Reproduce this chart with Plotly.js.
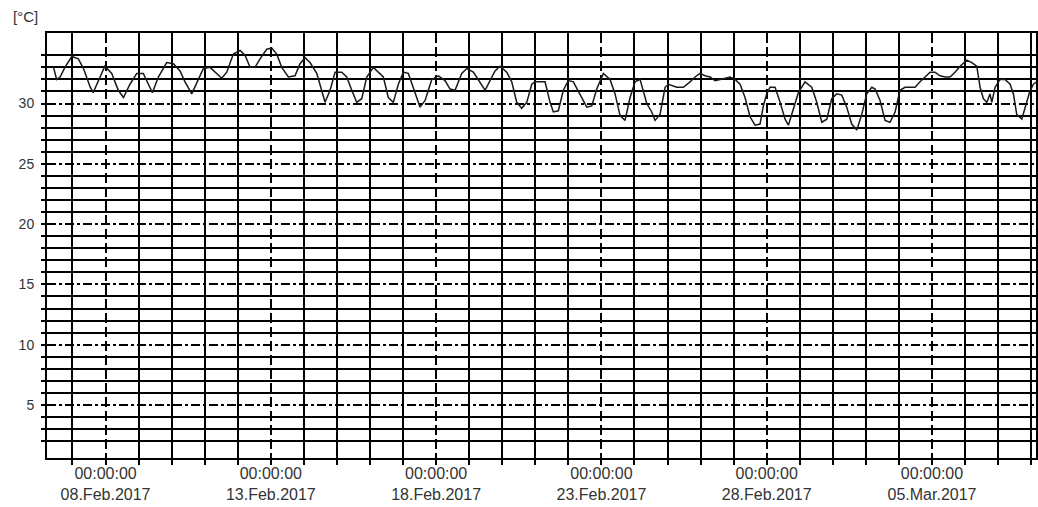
<!DOCTYPE html>
<html>
<head>
<meta charset="utf-8">
<script src="https://cdn.plot.ly/plotly-3.0.1.min.js"></script>
<style>html,body{margin:0;padding:0;background:#fff;}#chart{width:1038px;height:507px;}</style>
</head>
<body>
<div id="chart"></div>
<script>
const times = [
"2017-02-06 10:00","2017-02-06 12:30","2017-02-06 15:00","2017-02-06 18:30","2017-02-06 23:30",
"2017-02-07 04:15","2017-02-07 08:00","2017-02-07 12:45","2017-02-07 15:00","2017-02-07 18:45","2017-02-07 23:30",
"2017-02-08 04:30","2017-02-08 09:15","2017-02-08 13:00","2017-02-08 17:45","2017-02-08 22:40",
"2017-02-09 03:25","2017-02-09 07:05","2017-02-09 10:00","2017-02-09 14:20","2017-02-09 18:00","2017-02-09 20:25",
"2017-02-10 01:15","2017-02-10 06:05","2017-02-10 09:42","2017-02-10 14:35","2017-02-10 19:22","2017-02-10 23:00",
"2017-02-11 03:52","2017-02-11 08:44","2017-02-11 12:22","2017-02-11 16:00","2017-02-11 20:47",
"2017-02-12 01:39","2017-02-12 05:16","2017-02-12 08:55","2017-02-12 12:32","2017-02-12 16:10","2017-02-12 21:02",
"2017-02-13 00:40","2017-02-13 04:17","2017-02-13 07:55","2017-02-13 12:43","2017-02-13 17:34","2017-02-13 21:12",
"2017-02-14 00:50","2017-02-14 04:28","2017-02-14 09:20","2017-02-14 13:00","2017-02-14 15:22","2017-02-14 19:00","2017-02-14 22:37",
"2017-02-15 03:29","2017-02-15 07:07","2017-02-15 10:45","2017-02-15 14:22","2017-02-15 18:00","2017-02-15 21:38",
"2017-02-16 02:26","2017-02-16 06:03","2017-02-16 09:40","2017-02-16 13:18","2017-02-16 16:56","2017-02-16 20:34",
"2017-02-17 00:12","2017-02-17 03:50","2017-02-17 08:41","2017-02-17 12:20","2017-02-17 16:00","2017-02-17 20:50",
"2017-02-18 01:37","2017-02-18 06:28","2017-02-18 10:06","2017-02-18 13:44","2017-02-18 18:36","2017-02-18 22:14",
"2017-02-19 03:01","2017-02-19 07:53","2017-02-19 11:31","2017-02-19 15:09","2017-02-19 18:47","2017-02-19 22:24",
"2017-02-20 03:16","2017-02-20 06:54","2017-02-20 10:32","2017-02-20 14:10","2017-02-20 17:48","2017-02-20 21:26","2017-02-20 23:50",
"2017-02-21 07:05","2017-02-21 10:42","2017-02-21 13:06","2017-02-21 16:44","2017-02-21 20:21",
"2017-02-22 00:00","2017-02-22 03:38","2017-02-22 08:29","2017-02-22 13:21","2017-02-22 17:00","2017-02-22 20:36",
"2017-02-23 01:24","2017-02-23 06:16","2017-02-23 09:54","2017-02-23 13:32","2017-02-23 17:09","2017-02-23 20:47",
"2017-02-24 00:25","2017-02-24 04:03","2017-02-24 08:55","2017-02-24 12:32","2017-02-24 14:56","2017-02-24 18:34","2017-02-24 22:12",
"2017-02-25 00:36","2017-02-25 06:41","2017-02-25 11:30","2017-02-25 16:20","2017-02-25 20:00","2017-02-25 23:36",
"2017-02-26 03:14","2017-02-26 06:52","2017-02-26 10:30","2017-02-26 14:08","2017-02-26 17:46","2017-02-26 21:24",
"2017-02-27 01:00","2017-02-27 04:38","2017-02-27 08:16","2017-02-27 11:54","2017-02-27 15:32","2017-02-27 19:10","2017-02-27 21:34",
"2017-02-28 00:00","2017-02-28 02:26","2017-02-28 06:04","2017-02-28 09:42","2017-02-28 13:20","2017-02-28 15:44","2017-02-28 19:20","2017-02-28 23:00",
"2017-03-01 03:48","2017-03-01 08:42","2017-03-01 12:20","2017-03-01 16:00","2017-03-01 19:36","2017-03-01 23:12",
"2017-03-02 02:50","2017-03-02 06:30","2017-03-02 10:06","2017-03-02 13:42","2017-03-02 17:24","2017-03-02 21:00",
"2017-03-03 00:36","2017-03-03 04:18","2017-03-03 06:42","2017-03-03 10:18","2017-03-03 13:54","2017-03-03 17:30","2017-03-03 21:12",
"2017-03-04 00:48","2017-03-04 04:24","2017-03-04 08:06","2017-03-04 11:42","2017-03-04 15:18","2017-03-04 19:00","2017-03-04 22:36",
"2017-03-05 02:12","2017-03-05 05:48","2017-03-05 09:30","2017-03-05 13:06","2017-03-05 16:42","2017-03-05 20:24",
"2017-03-06 01:12","2017-03-06 04:54","2017-03-06 08:30","2017-03-06 10:54","2017-03-06 13:18","2017-03-06 15:48","2017-03-06 18:06","2017-03-06 19:24","2017-03-06 21:48",
"2017-03-07 01:24","2017-03-07 05:00","2017-03-07 08:42","2017-03-07 11:06","2017-03-07 13:30","2017-03-07 17:12","2017-03-07 19:36","2017-03-07 22:42",
"2017-03-08 01:36","2017-03-08 04:00"
];
// Temperature in °C
const temps = [
33.1,32.0,32.2,33.0,33.9,
33.7,32.9,31.4,30.9,31.9,33.1,
32.5,31.1,30.5,31.6,32.5,
32.5,31.6,30.9,32.2,33.0,33.4,
33.3,32.7,31.8,30.8,32.0,32.9,
33.0,32.5,32.1,32.6,34.1,
34.4,34.0,33.0,33.0,33.7,34.5,
34.6,34.1,33.0,32.2,32.3,33.3,
33.8,33.4,32.5,31.1,30.1,31.1,32.6,
32.6,32.2,31.1,30.1,30.4,32.2,
33.0,32.6,32.2,30.5,30.1,31.6,
32.6,32.5,30.8,29.7,30.25,32.0,
32.3,31.9,31.2,31.1,32.5,32.9,
32.6,31.8,31.1,31.9,32.7,33.1,
32.6,31.8,30.1,29.6,30.1,31.6,31.8,
31.8,30.1,29.3,29.4,31.1,
31.9,31.8,30.8,29.7,29.8,31.2,
32.5,32.0,30.8,29.0,28.6,30.5,
31.8,32.0,30.0,29.3,28.6,29.1,31.35,
31.6,31.35,31.35,31.8,32.2,32.5,
32.3,32.2,31.9,32.0,32.1,32.2,
32.0,31.6,30.5,28.9,28.2,28.3,29.8,
30.8,31.35,31.35,30.1,28.7,28.2,29.6,30.9,
31.8,31.35,30.1,28.45,28.7,30.4,
30.8,30.7,29.7,28.3,27.8,29.1,
30.8,31.35,31.2,30.25,28.6,28.45,29.3,
31.1,31.35,31.35,31.35,31.8,32.2,32.6,
32.6,32.3,32.2,32.2,32.6,33.1,
33.6,33.4,33.1,31.35,30.4,30.1,30.8,30.1,31.35,
32.0,32.0,31.6,30.8,29.1,28.7,29.7,30.9,
31.6,31.8
];
// Axis ticks
const xTickVals = ["2017-02-08","2017-02-13","2017-02-18","2017-02-23","2017-02-28","2017-03-05"];
const xTickText = ["00:00:00<br>08.Feb.2017","00:00:00<br>13.Feb.2017","00:00:00<br>18.Feb.2017","00:00:00<br>23.Feb.2017","00:00:00<br>28.Feb.2017","00:00:00<br>05.Mar.2017"];
const xMinorVals = ["2017-02-07","2017-02-09","2017-02-10","2017-02-11","2017-02-12",
  "2017-02-14","2017-02-15","2017-02-16","2017-02-17","2017-02-19","2017-02-20","2017-02-21","2017-02-22",
  "2017-02-24","2017-02-25","2017-02-26","2017-02-27","2017-03-01","2017-03-02","2017-03-03","2017-03-04",
  "2017-03-06","2017-03-07","2017-03-08"];
const yTickVals = [5,10,15,20,25,30];
const yMinorVals = [2,3,4,6,7,8,9,11,12,13,14,16,17,18,19,21,22,23,24,26,27,28,29,31,32,33,34];
const unitLabel = "[°C]";

const fam = "Arial, Liberation Sans, sans-serif";
const xFont = {family: fam, size: 16, color: "#333"};
const yFont = {family: fam, size: 14, color: "#333"};

Plotly.newPlot("chart", [{
  x: times, y: temps, type: "scatter", mode: "lines",
  line: {color: "#1a1a1a", width: 1.5}, hoverinfo: "skip"
}], {
  width: 1038, height: 507,
  margin: {l: 47, r: 2, t: 33, b: 49},
  paper_bgcolor: "#fff", plot_bgcolor: "#fff",
  showlegend: false,
  xaxis: {
    type: "date",
    range: ["2017-02-06 05:30", "2017-03-08 03:30"],
    tickmode: "array", tickvals: xTickVals, ticktext: xTickText,
    ticks: "outside", ticklen: 5, tickwidth: 2, tickcolor: "#000",
    showgrid: true, gridcolor: "#000", gridwidth: 2, griddash: "10px,4px",
    ticklabelstandoff: -5,
    minor: {tickmode: "array", tickvals: xMinorVals, showgrid: true, gridcolor: "#000", gridwidth: 2, griddash: "solid",
            ticks: "outside", ticklen: 5, tickwidth: 2, tickcolor: "#000"},
    showline: true, mirror: true, linecolor: "#000", linewidth: 2,
    zeroline: false, tickfont: xFont, tickangle: 0
  },
  yaxis: {
    range: [0.6, 35.85],
    tickmode: "array", tickvals: yTickVals,
    ticks: "outside", ticklen: 4, tickwidth: 2, tickcolor: "#000",
    ticklabelstandoff: 4,
    showgrid: true, gridcolor: "#000", gridwidth: 2, griddash: "dashdot",
    minor: {tickmode: "array", tickvals: yMinorVals, showgrid: true, gridcolor: "#000", gridwidth: 2, griddash: "solid",
            ticks: "outside", ticklen: 4, tickwidth: 2, tickcolor: "#000"},
    showline: true, mirror: true, linecolor: "#000", linewidth: 2,
    zeroline: false, tickfont: yFont
  },
  annotations: [{
    text: unitLabel, xref: "paper", yref: "paper", x: -0.022, y: 1.038,
    xanchor: "center", yanchor: "middle", showarrow: false, font: {family: fam, size: 15, color: "#333"}
  }]
}, {staticPlot: true});
</script>
</body>
</html>
